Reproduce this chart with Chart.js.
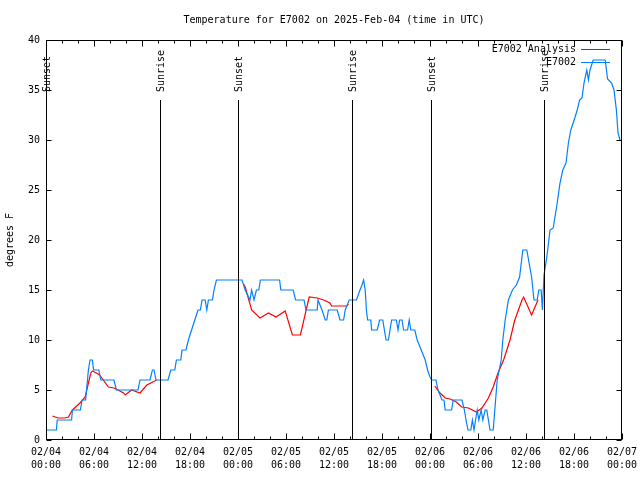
<!DOCTYPE html>
<html>
<head>
<meta charset="utf-8">
<script src="https://cdn.jsdelivr.net/npm/chart.js@4/dist/chart.umd.min.js"></script>
<style>
  body { margin: 0; background: #fff; }
  canvas { display: block; }
</style>
</head>
<body>
<canvas id="chart" width="640" height="480"></canvas>
<script>
// hours since 02/04 00:00 UTC
const TITLE = 'Temperature for E7002 on 2025-Feb-04 (time in UTC)';
const tickDates = ['02/04', '02/04', '02/04', '02/04', '02/05', '02/05', '02/05', '02/05', '02/06', '02/06', '02/06', '02/06', '02/07'];
const tickTimes = ['00:00', '06:00', '12:00', '18:00', '00:00', '06:00', '12:00', '18:00', '00:00', '06:00', '12:00', '18:00', '00:00'];

const eventHours = [0, 14.3, 24.05, 38.25, 48.1, 62.2];
const eventNames = ['Sunset', 'Sunrise', 'Sunset', 'Sunrise', 'Sunset', 'Sunrise'];
const eventTop = 34;

//? E7002 observations
const obsHours = [
    0, 1.3, 1.4, 3.2, 3.3, 4.3, 4.5, 4.95, 5.3, 5.5, 5.8, 5.95, 6.6, 6.85, 8.5, 8.8, 11.5, 11.75, 13.0, 13.3, 13.5, 13.75,
    15.25, 15.6, 16.1, 16.3, 16.85, 17.0, 17.5, 17.8, 18.2, 18.6, 19.0, 19.3, 19.5, 19.9, 20.1, 20.3, 20.8, 21.0, 21.3,
    24.5, 24.9, 25.5, 25.7, 26.0, 26.3, 26.6, 26.8, 29.2, 29.35, 30.9, 31.2, 32.25, 32.5, 33.9, 34.0, 34.5, 34.9, 35.1,
    35.3, 36.4, 36.75, 37.2, 37.4, 37.9, 38.8, 39.25, 39.5, 39.7, 39.9, 40.05, 40.2, 40.6, 40.7, 41.4, 41.7, 42.1, 42.3,
    42.5, 42.8, 43.0, 43.2, 43.8, 44.0, 44.2, 44.5, 44.7, 45.2, 45.4, 45.6, 46.1, 46.4, 46.9, 47.4, 47.7, 48.0, 48.2,
    48.75, 49.0, 49.25, 49.5, 49.75, 49.9, 50.7, 50.9, 52.0, 52.3, 52.5, 52.75, 53.1, 53.3, 53.5, 53.7, 53.9, 54.1, 54.4,
    54.6, 54.9, 55.1, 55.3, 55.5, 55.9, 56.1, 56.4, 56.9, 57.1, 57.4, 57.8, 58.3, 58.8, 59.2, 59.6, 60.1, 60.7, 61.0,
    61.4, 61.6, 61.9, 62.05, 62.25, 62.6, 63.0, 63.4, 63.9, 64.25, 64.6, 65.0, 65.3, 65.6, 66.1, 66.4, 66.7, 67.0,
    67.25, 67.6, 67.8, 68.0, 68.4, 69.9, 70.2, 70.7, 71.0, 71.3, 71.5, 71.75
];
const obsTemps = [
    1, 1, 2, 2, 3, 3, 4, 4, 7, 8, 8, 7, 7, 6, 6, 5, 5, 6, 6, 7, 7, 6,
    6, 7, 7, 8, 8, 9, 9, 10, 11, 12, 13, 13, 14, 14, 13, 14, 14, 15, 16,
    16, 15, 14, 15, 14, 15, 15, 16, 16, 15, 15, 14, 14, 13, 13, 14, 13, 12, 12,
    13, 13, 12, 12, 13, 14, 14, 15, 15.5, 16, 15, 13, 12, 12, 11, 11, 12, 12, 11,
    10, 10, 11, 12, 12, 11, 12, 12, 11, 11, 12, 11, 11, 10, 9, 8, 7, 6.3, 6,
    6, 5, 4.5, 4, 4, 3, 3, 4, 4, 3, 2, 1, 1, 2, 1, 2, 3, 2, 3,
    2, 3, 3, 2, 1, 1, 3, 6, 8, 10, 12, 14, 15, 15.5, 16.3, 19, 19, 16.3, 14,
    14, 15, 15, 13, 16.5, 18.3, 21, 21.2, 23.7, 25.7, 27, 27.7, 29.7, 31, 32.2, 33, 34, 34.2,
    35.7, 37, 36, 37, 38, 38, 36.1, 35.7, 35, 33, 30.7, 30
];

//? E7002 Analysis (null = gap)
const anaHours = [
    0.8, 1.5, 2.3, 2.8, 3.3, 4.25, 4.9, 5.3, 5.6, 5.8, 6.3, 6.7, 7.8, 8.5, 9.7, 9.9, 10.7, 11.75, 12.6, 13.6, 13.8,
    19,
    24.7, 24.9, 25.7, 26.75, 27.8, 28.75, 29.9, 30.8, 31.8, 32.9, 33.9, 34.7, 35.5, 35.7, 37.6, 37.8,
    43,
    48.6, 49.25, 49.9, 50.5, 51.3, 51.96, 52.8, 53.8, 54.5, 55.3, 55.9, 56.5, 57.2, 58.0, 58.6, 59.5, 59.7, 60.7, 61.5
];
const anaTemps = [
    2.4, 2.2, 2.2, 2.3, 3.0, 3.7, 4.3, 5.7, 6.7, 6.9, 6.7, 6.5, 5.3, 5.2, 4.7, 4.5, 5.0, 4.7, 5.5, 5.9, 6.0,
    null,
    15.6, 15.3, 13.0, 12.2, 12.7, 12.3, 12.9, 10.5, 10.5, 14.3, 14.2, 14.0, 13.7, 13.4, 13.4, 13.6,
    null,
    5.4, 4.7, 4.2, 4.1, 3.8, 3.3, 3.2, 2.8, 3.2, 4.2, 5.3, 6.7, 8.0, 10.0, 12.0, 14.0, 14.3, 12.5, 14.0
];

const FONT = { family: "'DejaVu Sans Mono', monospace", size: 10 };

/* -------------------------------------------------------------------------- */

function toPoints(xs, ys) {
    return xs.map((x, i) => ({ x: x, y: ys[i] }));
}

const gnuplotExtras = {
    id: 'gnuplotExtras',
    afterDatasetsDraw(chart) {
        const { ctx, chartArea: a, scales: { x, y } } = chart;
        ctx.save();
        //! sunrise / sunset markers
        ctx.strokeStyle = '#000';
        ctx.lineWidth = 1;
        ctx.fillStyle = '#000';
        ctx.font = `${FONT.size}px ${FONT.family}`;
        eventHours.forEach((h, i) => {
            const px = Math.round(x.getPixelForValue(h)) + 0.5;
            ctx.beginPath();
            ctx.moveTo(px, y.getPixelForValue(0));
            ctx.lineTo(px, y.getPixelForValue(eventTop));
            ctx.stroke();
            ctx.save();
            ctx.translate(px + 1, y.getPixelForValue(eventTop) - 8);
            ctx.rotate(-Math.PI / 2);
            ctx.textAlign = 'left';
            ctx.textBaseline = 'middle';
            ctx.fillText(eventNames[i], 0, 0);
            ctx.restore();
        });

        //! frame
        const L = Math.round(a.left) + 0.5, R = Math.round(a.right) - 0.5;
        const T = Math.round(a.top) + 0.5, B = Math.round(a.bottom) - 0.5;
        ctx.strokeRect(L, T, R - L, B - T);

        //! inward ticks
        ctx.beginPath();
        for (let h = 0; h <= 72; h += 2) {
            const px = Math.round(x.getPixelForValue(h)) + 0.5;
            const len = h % 6 === 0 ? 6 : 3;
            ctx.moveTo(px, B); ctx.lineTo(px, B - len);
            ctx.moveTo(px, T); ctx.lineTo(px, T + len);
        }
        for (let v = 0; v <= 40; v += 5) {
            const py = Math.round(y.getPixelForValue(v)) + 0.5;
            ctx.moveTo(L, py); ctx.lineTo(L + 5, py);
            ctx.moveTo(R, py); ctx.lineTo(R - 5, py);
        }
        ctx.stroke();

        //! title
        ctx.textAlign = 'center';
        ctx.textBaseline = 'middle';
        ctx.fillText(TITLE, (a.left + a.right) / 2, 20);

        //! legend
        ctx.textAlign = 'right';
        chart.data.datasets.forEach((ds, i) => {
            const ly = 49 + i * 13;
            ctx.fillStyle = '#000';
            ctx.fillText(ds.label, 576, ly);
            ctx.strokeStyle = ds.borderColor;
            ctx.beginPath();
            ctx.moveTo(581, ly + 0.5);
            ctx.lineTo(610, ly + 0.5);
            ctx.stroke();
        });
        ctx.restore();
    }
};

const chart = new Chart('chart', {
    type: 'line',
    data: {
        datasets: [{
            label: 'E7002 Analysis',
            data: toPoints(anaHours, anaTemps),
            borderColor: '#ff0000',
            backgroundColor: '#ff0000',
            borderWidth: 1.2,
            pointRadius: 0,
            tension: 0,
            spanGaps: false,
            order: 2
        }, {
            label: 'E7002',
            data: toPoints(obsHours, obsTemps),
            borderColor: 'rgb(0, 128, 255)',
            backgroundColor: 'rgb(0, 128, 255)',
            borderWidth: 1.2,
            pointRadius: 0,
            tension: 0,
            order: 1
        }]
    },
    options: {
        responsive: false,
        animation: false,
        devicePixelRatio: 1,
        layout: { padding: { top: 40, right: 18, bottom: 0, left: 0 } },
        scales: {
            x: {
                type: 'linear',
                min: 0,
                max: 72,
                grid: { display: false, drawTicks: false },
                border: { display: false },
                afterFit: (scale) => {
                    scale.height = 40;
                    scale.paddingLeft = 0;
                    scale.paddingRight = 0;
                },
                ticks: {
                    stepSize: 6,
                    autoSkip: false,
                    maxRotation: 0,
                    padding: 6,
                    color: '#000',
                    font: { ...FONT, lineHeight: 1.3 },
                    callback: (value) => {
                        const i = Math.round(value / 6);
                        return [tickDates[i], tickTimes[i]];
                    }
                }
            },
            y: {
                min: 0,
                max: 40,
                grid: { display: false, drawTicks: false },
                border: { display: false },
                afterFit: (scale) => {
                    scale.width = 46;
                    scale.paddingTop = 0;
                    scale.paddingBottom = 0;
                },
                title: {
                    display: true,
                    text: 'degrees F',
                    color: '#000',
                    font: FONT,
                    padding: { top: 4, bottom: 0 }
                },
                ticks: {
                    stepSize: 5,
                    padding: 6,
                    color: '#000',
                    font: FONT
                }
            }
        },
        plugins: {
            legend: { display: false },
            title: { display: false },
            tooltip: { enabled: false }
        }
    },
    plugins: [gnuplotExtras]
});
</script>
</body>
</html>
